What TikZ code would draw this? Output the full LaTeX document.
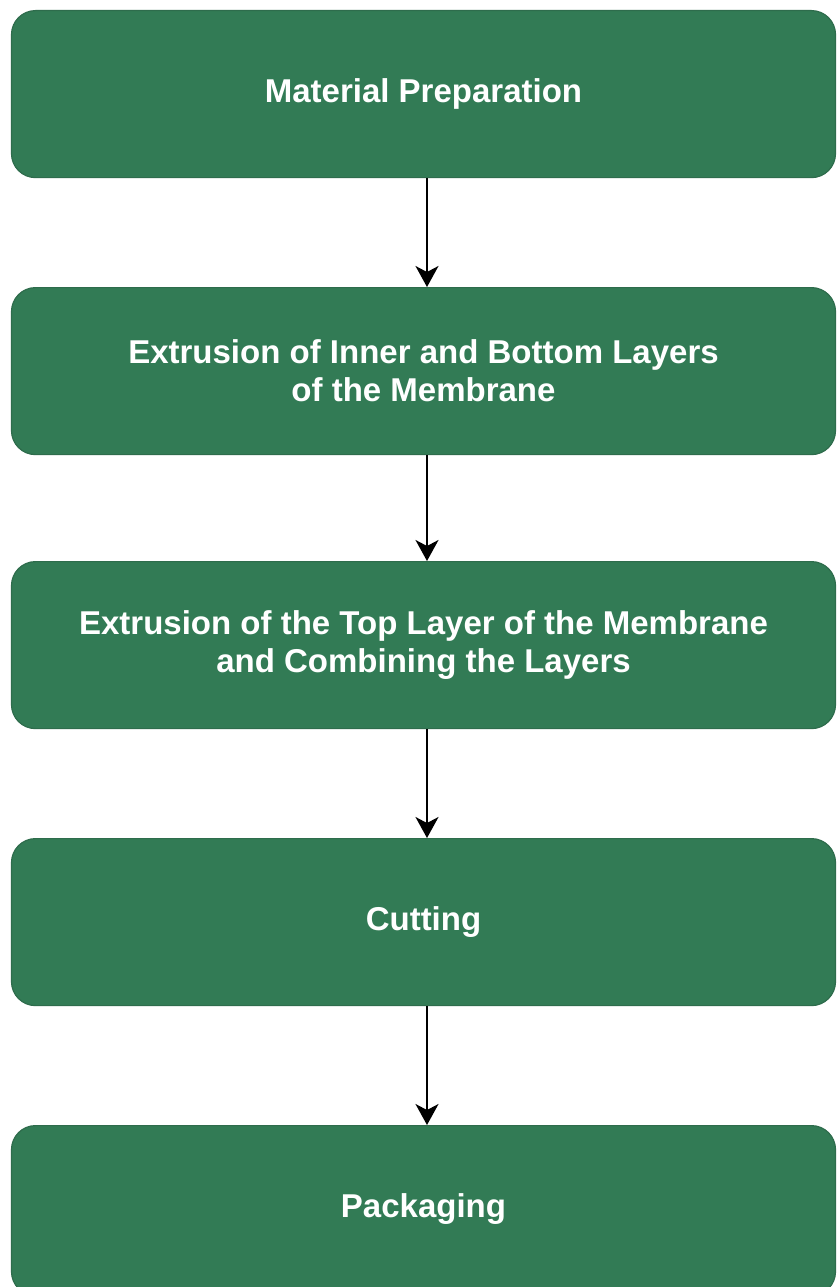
\documentclass[tikz,border=0pt]{standalone}
\usepackage{fontspec}
\setmainfont{Liberation Sans}
\usetikzlibrary{arrows.meta}
\definecolor{boxgreen}{RGB}{50,123,85}
\definecolor{boxedge}{RGB}{46,108,76}
\begin{document}
\begin{tikzpicture}[x=1pt,y=-1pt,
  stepbox/.style={draw=boxedge, line width=1.2pt, fill=boxgreen, rounded corners=24pt,
    minimum width=824pt, minimum height=167pt, inner sep=0pt, align=center,
    text=white, font=\bfseries\fontsize{33}{38}\selectfont, anchor=north},
  flow/.style={line width=2pt, -{Stealth[length=21pt,width=23pt,inset=6pt]}}]
\useasboundingbox[fill=white] (0,0) rectangle (840,1287);
\node[stepbox] (s1) at (423.5,10) {Material Preparation};
\node[stepbox] (s2) at (423.5,287) {Extrusion of Inner and Bottom Layers\\of the Membrane};
\node[stepbox] (s3) at (423.5,561) {Extrusion of the Top Layer of the Membrane\\and Combining the Layers};
\node[stepbox] (s4) at (423.5,838) {Cutting};
\node[stepbox, minimum height=170pt] (s5) at (423.5,1125) {};
\node[text=white, font=\bfseries\fontsize{33}{38}\selectfont] (t5) at (423.5,1209) {Packaging};
\draw[flow] (s1.south -| 427,0) -- (s2.north -| 427,0);
\draw[flow] (s2.south -| 427,0) -- (s3.north -| 427,0);
\draw[flow] (s3.south -| 427,0) -- (s4.north -| 427,0);
\draw[flow] (s4.south -| 427,0) -- (s5.north -| 427,0);
\end{tikzpicture}
\end{document}
